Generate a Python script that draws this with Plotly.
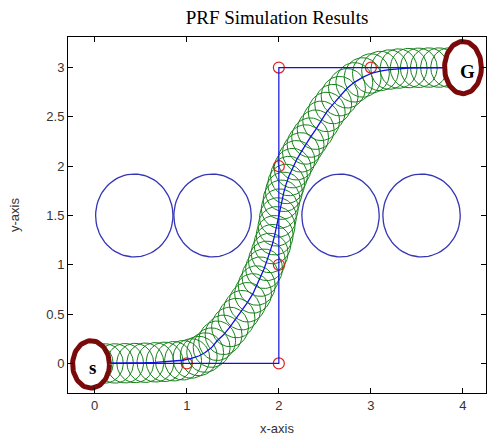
import numpy as np
import plotly.graph_objects as go

# Planned waypoint path (blue polyline) and waypoint markers (red circles)
path_x = [0, 2, 2, 4]
path_y = [0, 0, 3, 3]
wp_x = [0, 1, 2, 2, 2, 2, 3, 4]
wp_y = [0, 0, 0, 1, 2, 3, 3, 3]

# Obstacles (blue circles)
obs_x = [0.43, 1.28, 2.67, 3.55]
obs_y = [1.5, 1.5, 1.5, 1.5]
obs_r = [0.42, 0.42, 0.42, 0.42]

# Robot trajectory (smooth curve) - robot footprint drawn at each point
traj_x = [0, 0.11, 0.22, 0.33, 0.44, 0.55, 0.66, 0.76, 0.86, 0.96, 1.05, 1.13,
          1.20, 1.27, 1.33, 1.40, 1.47, 1.54, 1.60, 1.66, 1.72, 1.76, 1.80, 1.84,
          1.87, 1.90, 1.93, 1.955, 1.975, 1.99, 2.01, 2.03, 2.055, 2.08, 2.11, 2.15,
          2.19, 2.24, 2.29, 2.34, 2.40, 2.46, 2.52, 2.59, 2.66, 2.74, 2.82, 2.91,
          3.00, 3.10, 3.20, 3.30, 3.41, 3.52, 3.63, 3.74, 3.85, 4.0]
traj_y = [0, 0, 0, 0.002, 0.004, 0.007, 0.011, 0.016, 0.022, 0.032, 0.05, 0.075,
          0.11, 0.16, 0.23, 0.29, 0.37, 0.46, 0.54, 0.62, 0.71, 0.79, 0.88, 0.96,
          1.04, 1.12, 1.21, 1.30, 1.39, 1.48, 1.57, 1.66, 1.74, 1.82, 1.90, 1.98,
          2.06, 2.14, 2.22, 2.29, 2.37, 2.46, 2.55, 2.63, 2.71, 2.79, 2.85, 2.90,
          2.94, 2.965, 2.98, 2.99, 2.995, 2.998, 3.0, 3.0, 3.0, 3.0]
robot_r = 0.2

# Start / goal markers
sg_labels = ["s", "G"]
sg_x = [-0.04, 4.0]
sg_y = [-0.01, 3.0]
sg_rx = [0.2, 0.2]
sg_ry = [0.24, 0.265]

theta = np.linspace(0, 2 * np.pi, 73)


def ring_trace(cx, cy, rx, ry):
    xs, ys = [], []
    for x0, y0, a, b in zip(cx, cy, rx, ry):
        xs += list(x0 + a * np.cos(theta)) + [None]
        ys += list(y0 + b * np.sin(theta)) + [None]
    return xs, ys


fig = go.Figure()

gx, gy = ring_trace(traj_x, traj_y, [robot_r] * len(traj_x), [robot_r] * len(traj_x))
fig.add_trace(go.Scatter(x=gx, y=gy, mode="lines", line=dict(color="#16801a", width=1)))

fig.add_trace(go.Scatter(x=wp_x, y=wp_y, mode="markers",
                         marker=dict(symbol="circle-open", size=11, color="#e02020",
                                     line=dict(width=1.2, color="#e02020"))))

fig.add_trace(go.Scatter(x=path_x, y=path_y, mode="lines", line=dict(color="#1010e0", width=1.2)))

ox, oy = ring_trace(obs_x, obs_y, obs_r, obs_r)
fig.add_trace(go.Scatter(x=ox, y=oy, mode="lines", line=dict(color="#3535b5", width=1.3)))

fig.add_trace(go.Scatter(x=traj_x, y=traj_y, mode="lines", line=dict(color="#1010e0", width=1.3)))

for x0, y0, a, b in zip(sg_x, sg_y, sg_rx, sg_ry):
    ex, ey = ring_trace([x0], [y0], [a], [b])
    fig.add_trace(go.Scatter(x=ex[:-1], y=ey[:-1], mode="lines", fill="toself",
                             fillcolor="white", line=dict(color="#7a0a0a", width=5)))

annotations = [
    dict(x=-0.02, y=-0.04, xref="x", yref="y", text="<b>s</b>", showarrow=False,
         font=dict(family="Liberation Serif", size=19, color="black")),
    dict(x=4.05, y=2.96, xref="x", yref="y", text="<b>G</b>", showarrow=False,
         font=dict(family="Liberation Serif", size=19, color="black")),
    dict(x=0.5, y=0, xref="paper", yref="paper", text="x-axis", showarrow=False,
         yshift=-35, yanchor="middle", font=dict(family="Liberation Sans", size=13, color="#333")),
    dict(x=0, y=0.5, xref="paper", yref="paper", text="y-axis", showarrow=False,
         xshift=-54, xanchor="center", textangle=-90,
         font=dict(family="Liberation Sans", size=13, color="#333")),
]

axis_common = dict(showgrid=False, zeroline=False, showline=True, linecolor="black",
                   linewidth=1, mirror="ticks", ticks="inside", ticklen=5,
                   tickcolor="black", tickfont=dict(family="Liberation Sans", size=13, color="#333"))

fig.update_layout(
    width=490, height=439,
    margin=dict(l=68, r=4, t=37, b=46),
    paper_bgcolor="white", plot_bgcolor="white",
    showlegend=False,
    title=dict(text="PRF Simulation Results", x=0.5, xref="paper", y=1 - 17 / 439,
               yref="container", yanchor="middle",
               font=dict(family="Liberation Serif", size=19, color="black")),
    xaxis=dict(range=[-0.29, 4.25], tickvals=[0, 1, 2, 3, 4], **axis_common),
    yaxis=dict(range=[-0.3, 3.31], tickvals=[0, 0.5, 1, 1.5, 2, 2.5, 3],
               ticktext=["0", "0.5", "1", "1.5", "2", "2.5", "3"], **axis_common),
    annotations=annotations,
)

fig.write_html("out.html")
